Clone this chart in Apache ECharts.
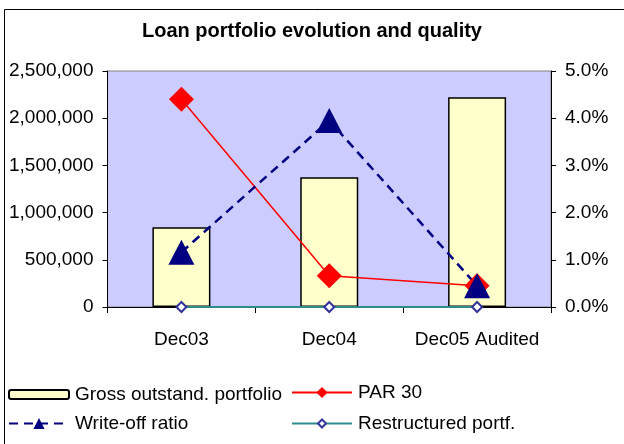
<!DOCTYPE html>
<html>
<head>
<meta charset="utf-8">
<title>Loan portfolio evolution and quality</title>
<script src="https://cdn.jsdelivr.net/npm/echarts@6/dist/echarts.min.js"></script>
<style>
  html, body { margin: 0; padding: 0; background: #fff; }
  #chart { width: 624px; height: 444px; }
</style>
</head>
<body>
<div id="chart"></div>
<script>
// data
var categories = ['Dec03', 'Dec04', 'Dec05 Audited'];
var grossPortfolio = [844000, 1374000, 2221000];
var par30 = [0.044, 0.0066, 0.0045];
var writeOff = [0.0116, 0.0395, 0.0045];
var restructured = [0, 0, 0];
var leftTicks = { min: 0, max: 2500000, interval: 500000 };
var rightTicks = { min: 0, max: 0.05, interval: 0.01 };

var font = 'Liberation Sans, Arial, sans-serif';
var chart = echarts.init(document.getElementById('chart'));

function legendAt(name, left, top, h) {
  return {
    data: [name],
    left: left,
    top: top,
    itemWidth: 60,
    itemHeight: h,
    itemGap: 0,
    padding: 0,
    textStyle: { fontFamily: font, fontSize: 19, color: '#000', padding: [0, 0, 0, 1] }
  };
}

var option = {
  animation: false,
  textStyle: { fontFamily: font },
  title: {
    text: 'Loan portfolio evolution and quality',
    left: 'center',
    top: 16,
    textStyle: { fontFamily: font, fontSize: 20, fontWeight: 'bold', color: '#000' }
  },
  graphic: [{
    type: 'rect',
    shape: { x: 4.5, y: 9.5, width: 640, height: 460 },
    style: { fill: 'none', stroke: '#000', lineWidth: 1 },
    silent: true
  }],
  legend: [
    legendAt('Gross outstand. portfolio', 8, 385, 9),
    legendAt('PAR 30', 291, 383, 14),
    legendAt('Write-off ratio', 8, 414, 14),
    legendAt('Restructured portf.', 291, 414, 10)
  ],
  grid: {
    left: 107.5, right: 73, top: 71, bottom: 137,
    show: true, backgroundColor: '#CCCCFF', borderColor: '#808080', borderWidth: 1
  },
  xAxis: {
    type: 'category',
    data: categories,
    axisLine: { lineStyle: { color: '#000', width: 1 } },
    axisTick: { show: true, length: 6, lineStyle: { color: '#000' } },
    axisLabel: { color: '#000', fontSize: 19, margin: 23, interval: 0 }
  },
  yAxis: [{
    type: 'value',
    min: leftTicks.min, max: leftTicks.max, interval: leftTicks.interval,
    axisLine: { show: true, lineStyle: { color: '#000' } },
    axisTick: { show: true, length: 5, lineStyle: { color: '#000' } },
    splitLine: { show: false },
    axisLabel: {
      color: '#000', fontSize: 19, margin: 14,
      formatter: function (v) { return v === 0 ? '0' : v.toLocaleString('en-US'); }
    }
  }, {
    type: 'value',
    min: rightTicks.min, max: rightTicks.max, interval: rightTicks.interval,
    axisLine: { show: true, lineStyle: { color: '#000' } },
    axisTick: { show: true, length: 5, lineStyle: { color: '#000' } },
    splitLine: { show: false },
    axisLabel: {
      color: '#000', fontSize: 19, margin: 14,
      formatter: function (v) { return (v * 100).toFixed(1) + '%'; }
    }
  }],
  series: [{
    name: 'Gross outstand. portfolio',
    type: 'bar',
    data: grossPortfolio,
    barWidth: 58,
    itemStyle: { color: '#FFFFCC', borderColor: '#000', borderWidth: 1.5 }
  }, {
    name: 'PAR 30',
    type: 'line',
    yAxisIndex: 1,
    data: par30,
    symbol: 'diamond',
    symbolSize: 25,
    lineStyle: { color: '#FF0000', width: 1.5 },
    itemStyle: { color: '#FF0000' }
  }, {
    name: 'Write-off ratio',
    type: 'line',
    yAxisIndex: 1,
    data: writeOff,
    symbol: 'triangle',
    symbolSize: [26, 25],
    lineStyle: { color: '#000080', width: 2.5, type: [9, 6] },
    itemStyle: { color: '#000080' }
  }, {
    name: 'Restructured portf.',
    type: 'line',
    yAxisIndex: 1,
    data: restructured,
    symbol: 'emptyDiamond',
    symbolSize: 10,
    lineStyle: { color: '#2E8B8B', width: 2 },
    itemStyle: { color: '#333399', borderWidth: 1.5 }
  }]
};

chart.setOption(option);
</script>
</body>
</html>
